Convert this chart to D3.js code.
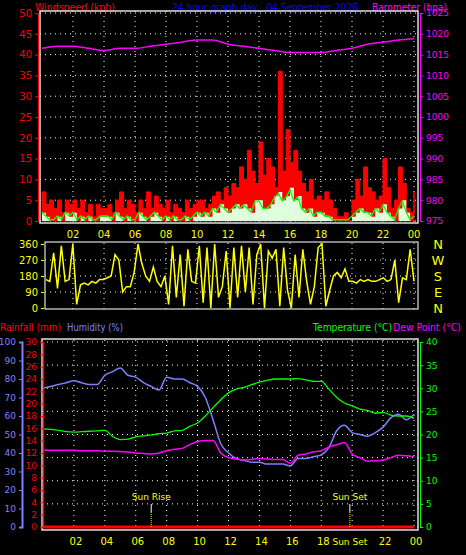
<!DOCTYPE html>
<html><head><meta charset="utf-8">
<script src="https://cdn.jsdelivr.net/npm/d3@7"></script>
<style>body{margin:0;background:#000}svg{display:block}text{font-family:"DejaVu Sans",sans-serif}</style>
</head><body>
<script>
// ---- data (15 min steps for wind, hourly baro, half-hourly temp/hum) ----
const hourLabels = ["02","04","06","08","10","12","14","16","18","20","22","00"];
const gust = [7,4,5,3, 5,2,5,4, 5,3,5,2, 4,1,4,3, 3,4,2,5, 7,3,5,4, 2,5,3,7, 3,6,4,3,
  5,2,4,3, 2,5,3,4, 5,5,3,4, 6,7,5,8, 6,9,8,13, 10,17,12,9, 19,11,15,13, 8,36,12,22,
  14,17,12,9, 7,10,5,6, 5,7,5,3, 1,1,2,0, 5,10,6,13, 8,7,5,6, 15,8,3,5, 13,9,3,2, 7];
const avgWind = [2,1,0,0, 1,0,2,1, 2,0,1,0, 1,0,0,1, 1,1,0,2, 1,0,1,0, 0,2,1,0, 1,2,1,0,
  1,0,1,0, 0,1,0,1, 2,1,2,1, 3,2,4,3, 2,3,4,3, 4,3,2,5, 5,3,3,4, 6,7,5,6,
  8,5,6,3, 2,3,1,2, 2,1,1,0, 0,0,0,0, 1,2,3,2, 2,1,3,2, 4,2,1,0, 3,5,2,0, 1];
const baro = [1016.5,1017,1017,1016.5,1016,1016.5,1016.5,1017,1017.5,1018,1018.5,1018.5,1017.5,
  1017,1016.5,1016,1015.5,1015.5,1015.5,1016,1016.5,1017.5,1018,1018.5,1018.8];
const direction = [160,150,310,110, 350,150,160,360, 20,130,140,130, 150,140,160,160,
  170,180,300,270, 90,120,120,200, 360,250,180,150, 230,150,120,180, 20,350,60,300,
  10,330,150,140, 350,30,340,0, 360,60,120,320, 0,340,60,350, 90,340,20,300,
  360,0,320,280, 330,10,340,100, 0,300,60,330, 150,20,120,340, 360,10,100,180,
  200,170,220,150, 150,140,160,150, 160,150,150,160, 170,150,160,270, 30,170,160,330, 150];
const humidity = [75,76,77,78,79,78,77,77,82,84,86,82,81,78,76,74,81,80,80,78,76,70,58,45,40,
  37,36,35,35,34,34,34,33,37,37,38,39,43,52,55,51,50,49,51,54,59,61,58,61];
const temperature = [21.2,21.1,20.9,20.6,20.5,20.6,20.7,20.8,20.9,19.6,18.9,19.0,19.5,19.7,19.9,
  20.2,20.3,20.8,20.9,21.8,22.5,24.0,25.8,27.5,29.0,29.8,30.2,30.8,31.3,31.7,32.0,32.0,32.0,
  32.1,31.8,31.5,31.5,29.8,28.0,26.8,26.2,25.5,25.2,24.6,24.8,24.2,24.0,24.0,23.5];
const dewPoint = [16.6,16.6,16.6,16.6,16.6,16.5,16.5,16.5,16.4,16.4,16.3,16.2,16.0,15.9,15.8,
  16.0,16.5,16.8,17.0,17.8,18.5,18.7,18.7,16.0,15.0,14.7,14.5,14.6,14.8,14.7,14.6,14.6,13.8,
  15.5,15.8,16.2,16.5,17.3,17.8,18.2,15.8,15.0,14.2,14.3,14.5,15.0,15.5,15.4,15.2];
const rainfall = [0,0,0,0,0,0,0,0,0,0,0,0,0,0,0,0,0,0,0,0,0,0,0,0,0];
const sunRise = 7.0, sunSet = 19.85;

const svg = d3.select("body").append("svg").attr("width",466).attr("height",555);
const frame = "#e0e0e0";
const dotted = g => g.attr("stroke","#fff").attr("stroke-width",1).attr("stroke-dasharray","1,4");
const txt = (x,y,s,c,anchor,size,len) => {
  const t = svg.append("text").attr("x",x).attr("y",y).text(s)
    .attr("fill",c).attr("font-size",size||11).attr("text-anchor",anchor||"start");
  if (len) t.attr("textLength",len).attr("lengthAdjust","spacingAndGlyphs");
  return t;
};
const styleAxis = (col,size) => g => {
  g.selectAll("path,line").attr("stroke",col);
  g.selectAll("text").attr("fill",col).attr("font-size",size).attr("font-family","DejaVu Sans");
};

//-------------------- TOP: wind + barometer --------------------
const x = d3.scaleLinear().domain([0,24]).range([42,414]);
const yW = d3.scaleLinear().domain([0,50]).range([221,13]);
const yB = d3.scaleLinear().domain([975,1025]).range([221,13]);
const t15 = (d,i) => x(i/4);

txt(35,11,"Windspeed (kph)","#ff0000","start",11,80);
txt(172,11,"24 hour graph day : 04 September 2026","#0000ff","start",11,186);
txt(372,11,"Barometer (hpa)","#ff00ff","start",11,75);

const topG = svg.append("g");
d3.range(0,55,5).forEach(v => topG.append("line").call(dotted).attr("x1",40).attr("x2",418).attr("y1",yW(v)).attr("y2",yW(v)));
d3.range(2,25,2).forEach(h => topG.append("line").call(dotted).attr("x1",x(h)).attr("x2",x(h)).attr("y1",11).attr("y2",223));

topG.append("path").datum(gust).attr("fill","#ff0000").attr("stroke","#ff0000").attr("stroke-width",1)
  .attr("d",d3.area().x(t15).y0(yW(0)).y1(d=>yW(d)).curve(d3.curveStepAfter));
topG.append("path").datum(avgWind).attr("fill","#ddffdd")
  .attr("d",d3.area().x(t15).y0(yW(0)).y1(d=>yW(d)).curve(d3.curveStepAfter));
topG.append("path").datum(avgWind.map(v=>v*0.9+0.3)).attr("fill","none").attr("stroke","#00ff00").attr("stroke-width",1.3)
  .attr("d",d3.line().x(t15).y(d=>yW(d)));
topG.append("path").datum(baro).attr("fill","none").attr("stroke","#ff00ff").attr("stroke-width",1.5)
  .attr("d",d3.line().x((d,i)=>x(i)).y(d=>yB(d)).curve(d3.curveMonotoneX));

topG.append("rect").attr("x",40).attr("y",11).attr("width",378).attr("height",212).attr("fill","none").attr("stroke",frame).attr("stroke-width",1.5);
topG.append("g").attr("transform","translate(38,0)").call(d3.axisLeft(yW).ticks(10).tickSize(3))
  .call(styleAxis("#ff0000",10));
topG.append("g").attr("transform","translate(420,0)").call(d3.axisRight(yB).ticks(10).tickSize(3).tickFormat(d3.format("d")))
  .call(styleAxis("#ff00ff",9));
hourLabels.forEach((l,i)=>txt(x((i+1)*2),238,l,"#ffff00","middle",10));

//-------------------- MIDDLE: direction --------------------
const xD = d3.scaleLinear().domain([0,24]).range([46,414]);
const yD = d3.scaleLinear().domain([0,360]).range([308,244]);
const mid = svg.append("g");
[90,180,270].forEach(v => mid.append("line").call(dotted).attr("x1",45).attr("x2",418).attr("y1",yD(v)).attr("y2",yD(v)));
d3.range(2,25,2).forEach(h => mid.append("line").call(dotted).attr("x1",x(h)).attr("x2",x(h)).attr("y1",243).attr("y2",309));
mid.append("path").datum(direction).attr("fill","none").attr("stroke","#ffff00").attr("stroke-width",1.5)
  .attr("d",d3.line().x((d,i)=>xD(i/4)).y(d=>yD(d)));
mid.append("rect").attr("x",45).attr("y",242).attr("width",373).attr("height",67).attr("fill","none").attr("stroke",frame).attr("stroke-width",1.2);
mid.append("g").attr("transform","translate(44,0)").call(d3.axisLeft(yD).tickValues([0,90,180,270,360]).tickSize(3))
  .call(styleAxis("#ffff00",10)).call(g=>g.select(".domain").remove());
["N","W","S","E","N"].forEach((l,i)=>txt(438,yD(360-i*90)+5,l,"#ffff00","middle",13));

//-------------------- BOTTOM: temp / hum / dew / rain --------------------
const xB = d3.scaleLinear().domain([0,24]).range([43,414]);
const yH = d3.scaleLinear().domain([0,100]).range([527,342]);
const yR = d3.scaleLinear().domain([0,30]).range([527,342]);
const yT = d3.scaleLinear().domain([0,40]).range([527,342]);
const t30 = (d,i) => xB(i/2);

txt(0,331,"Rainfall (mm)","#ff0000","start",11,61);
txt(67,331,"Humidity (%)","#8080ff","start",11,56);
txt(313,331,"Temperature (°C)","#00ff00","start",11,79);
txt(393,331,"Dew Point (°C)","#ff00ff","start",11,68);

const bot = svg.append("g");
d3.range(0,45,5).forEach(v => bot.append("line").call(dotted).attr("x1",42).attr("x2",418).attr("y1",yT(v)).attr("y2",yT(v)));
d3.range(2,25,2).forEach(h => bot.append("line").call(dotted).attr("x1",xB(h)).attr("x2",xB(h)).attr("y1",340).attr("y2",530));

bot.append("path").datum(humidity).attr("fill","none").attr("stroke","#8080ff").attr("stroke-width",1.5)
  .attr("d",d3.line().x(t30).y(d=>yH(d)).curve(d3.curveMonotoneX));
bot.append("path").datum(temperature).attr("fill","none").attr("stroke","#00ff00").attr("stroke-width",1.3)
  .attr("d",d3.line().x(t30).y(d=>yT(d)).curve(d3.curveMonotoneX));
bot.append("path").datum(dewPoint).attr("fill","none").attr("stroke","#ff00ff").attr("stroke-width",1.5)
  .attr("d",d3.line().x(t30).y(d=>yT(d)).curve(d3.curveMonotoneX));
bot.append("path").datum(rainfall).attr("fill","none").attr("stroke","#ff0000").attr("stroke-width",3)
  .attr("d",d3.line().x((d,i)=>xB(i)).y(d=>yR(d)));

[[sunRise,"Sun Rise"],[sunSet,"Sun Set"]].forEach(([h,l])=>{
  bot.append("line").attr("x1",xB(h)).attr("x2",xB(h)).attr("y1",504).attr("y2",512).attr("stroke","#fff");
  bot.append("line").attr("x1",xB(h)).attr("x2",xB(h)).attr("y1",512).attr("y2",527).attr("stroke","#ff0").attr("stroke-dasharray","1,1");
  txt(xB(h),500,l,"#ffff00","middle",9);
});
txt(xB(sunSet),545,"Sun Set","#ffff00","middle",9);

bot.append("rect").attr("x",42).attr("y",339).attr("width",376).attr("height",191).attr("fill","none").attr("stroke",frame).attr("stroke-width",1.5);
bot.append("g").attr("transform","translate(22,0)").call(d3.axisLeft(yH).ticks(10).tickSize(3))
  .call(styleAxis("#8080ff",9)).call(g=>g.select(".domain").attr("stroke-width",2));
bot.append("g").attr("transform","translate(43,0)").call(d3.axisLeft(yR).tickValues(d3.range(0,31,2)).tickSize(3))
  .call(styleAxis("#ff0000",9)).call(g=>g.select(".domain").attr("stroke-width",1.5));
bot.append("g").attr("transform","translate(420,0)").call(d3.axisRight(yT).ticks(8).tickSize(3))
  .call(styleAxis("#00ff00",9));
hourLabels.forEach((l,i)=>{ if(l!=="20") txt(xB((i+1)*2)+2,545,l,"#ffff00","middle",10); });
</script>
</body></html>
